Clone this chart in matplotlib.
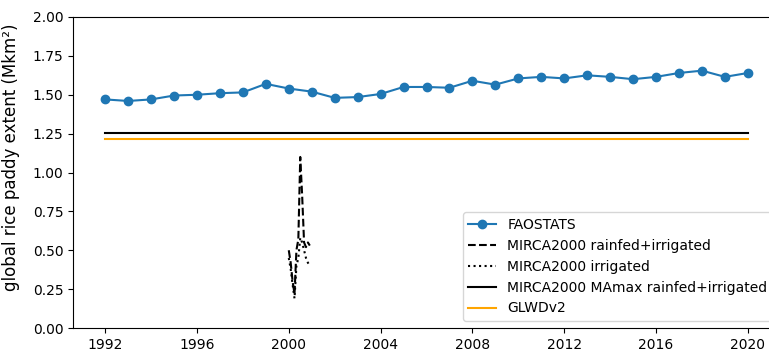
import numpy as np
import matplotlib
matplotlib.use("Agg")
import matplotlib.pyplot as plt

years = list(range(1992, 2021))
faostats = [1.47, 1.46, 1.47, 1.495, 1.50, 1.51, 1.515, 1.57, 1.54, 1.52,
            1.48, 1.485, 1.505, 1.55, 1.55, 1.545, 1.59, 1.565, 1.605, 1.615,
            1.605, 1.625, 1.615, 1.60, 1.615, 1.64, 1.655, 1.615, 1.64]

mirca_months = [2000 + m / 12 for m in range(12)]
mirca_total = [0.50, 0.42, 0.30, 0.22, 0.50, 0.57, 1.10, 0.85, 0.55, 0.52, 0.55, 0.53]
mirca_irr = [0.45, 0.38, 0.28, 0.19, 0.40, 0.45, 0.58, 0.55, 0.50, 0.45, 0.42, 0.40]

mamax_value = 1.254
glwd_value = 1.215

fig = plt.figure(figsize=(7.69, 3.49), dpi=100)
ax = fig.add_axes([73 / 769, 21 / 349, (780 - 73) / 769, (328 - 17) / 349])

ax.plot(years, faostats, marker='o', color='#1f77b4', label='FAOSTATS')
ax.plot(mirca_months, mirca_total, 'k--', label='MIRCA2000 rainfed+irrigated')
ax.plot(mirca_months, mirca_irr, 'k:', label='MIRCA2000 irrigated')
ax.plot([years[0], years[-1]], [mamax_value, mamax_value], color='black',
        label='MIRCA2000 MAmax rainfed+irrigated')
ax.plot([years[0], years[-1]], [glwd_value, glwd_value], color='orange',
        label='GLWDv2')

ax.set_ylim(0, 2.0)
ax.set_xticks(list(range(1992, 2021, 4)))
ax.set_ylabel('global rice paddy extent (Mkm²)', fontsize=12)
ax.yaxis.set_label_coords(-0.075, 0.55)
ax.legend(loc='lower right')

fig.savefig('out.png', dpi=100)
